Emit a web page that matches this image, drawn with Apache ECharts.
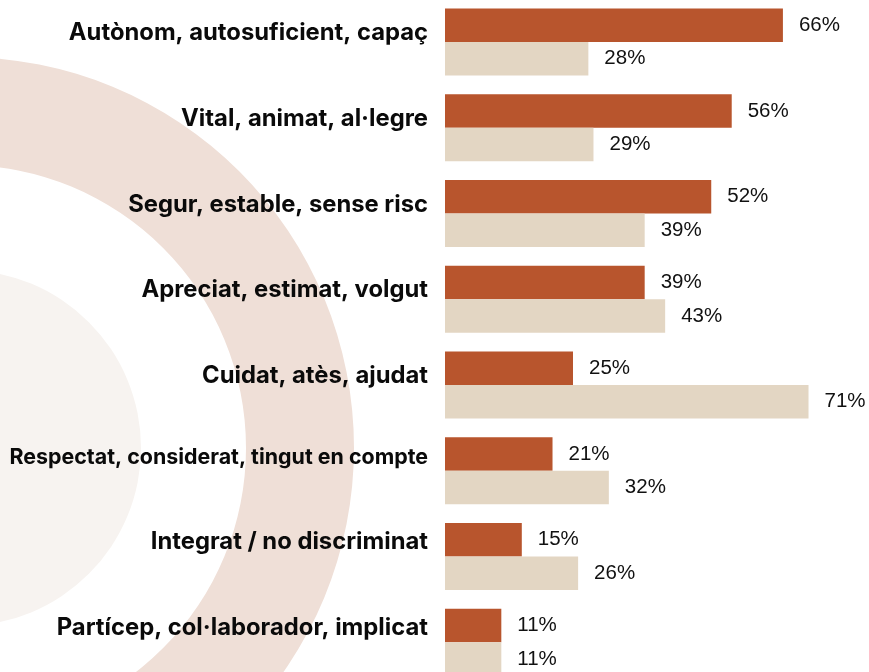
<!DOCTYPE html>
<html><head><meta charset="utf-8">
<script src="https://cdn.jsdelivr.net/npm/echarts@6/dist/echarts.min.js"></script>
<style>html,body{margin:0;padding:0;background:#fff}#c{width:869px;height:672px}</style>
</head><body><div id="c"></div>
<script>
const categories = [
  "Autònom, autosuficient, capaç",
  "Vital, animat, al·legre",
  "Segur, estable, sense risc",
  "Apreciat, estimat, volgut",
  "Cuidat, atès, ajudat",
  "Respectat, considerat, tingut en compte",
  "Integrat / no discriminat",
  "Partícep, col·laborador, implicat"
];
const seriesA = [66, 56, 52, 39, 25, 21, 15, 11];
const seriesB = [28, 29, 39, 43, 71, 32, 26, 11];

const chart = echarts.init(document.getElementById('c'), null, {renderer: 'canvas'});
const lbl = {
  show: true, position: 'right', distance: 16,
  formatter: p => p.value + '%',
  color: '#111', fontSize: 20.5, fontFamily: 'Liberation Sans, Arial, sans-serif'
};
const catFont = {fontWeight: 'bold', fontFamily: 'Inter, sans-serif', color: '#0a0a0a'};
chart.setOption({
  animation: false,
  backgroundColor: '#ffffff',
  graphic: [
    {type: 'ring', z: -10, silent: true, shape: {cx: -37, cy: 448, r: 391, r0: 283}, style: {fill: '#EFDFD7'}},
    {type: 'circle', z: -10, silent: true, shape: {cx: -37, cy: 448, r: 178}, style: {fill: '#F7F3F0'}}
  ],
  grid: {left: 445, top: -1, width: 409.6, height: 686, containLabel: false, outerBoundsMode: 'none'},
  xAxis: {type: 'value', min: 0, max: 80, show: false},
  yAxis: {
    type: 'category', data: categories, inverse: true,
    axisLine: {show: false}, axisTick: {show: false},
    axisLabel: {
      margin: 17, color: '#0a0a0a', fontWeight: 'bold', fontSize: 23.8,
      fontFamily: 'Inter, sans-serif',
      formatter: (v, i) => {
        const key = v.length > 36 ? 's' : (i >= 5 ? 'b' : 'a');
        return '{' + key + '|' + v + '}';
      },
      rich: {
        a: Object.assign({fontSize: 23.8, padding: [0, 0, 18, 0]}, catFont),
        b: Object.assign({fontSize: 23.8, padding: [0, 0, 29, 0]}, catFont),
        s: Object.assign({fontSize: 21.4, padding: [0, 0, 26, 0]}, catFont)
      }
    }
  },
  series: [
    {type: 'bar', data: seriesA, barWidth: 33.5, barGap: '0%', itemStyle: {color: '#B8552D'}, label: lbl},
    {type: 'bar', data: seriesB, barWidth: 33.5, barGap: '0%', itemStyle: {color: '#E3D6C3'}, label: lbl}
  ]
});
</script></body></html>
